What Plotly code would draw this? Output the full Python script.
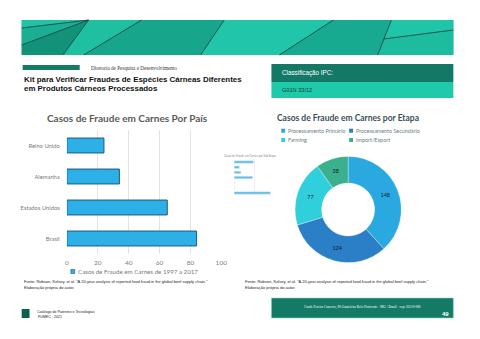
import plotly.graph_objects as go

# ---------------- data ----------------
paises = ["Reino Unido", "Alemanha", "Estados Unidos", "Brasil"]
casos_pais = [24, 34, 65, 84]
serie_pais = "Casos de Fraude em Carnes de 1997 a 2017"

etapas = ["Processamento Primário", "Processamento Secundário", "Farming", "Import/Export"]
casos_etapa = [148, 124, 77, 38]
cores_etapa = ["#2aa9e0", "#2a7fc6", "#2fcfdb", "#3bb08e"]

sub_etapas = ["a", "b", "c", "d", "e", "f", "g"]
casos_sub = [48, 13, 17, 46, 1, 1, 90]

x_ticks = [0, 20, 40, 60, 80, 100]

W, H = 480, 339
def fx(x): return x / W
def fy(y): return 1 - y / H

FONT = "Lato"
fig = go.Figure()

# ---------------- bar chart ----------------
fig.add_trace(go.Bar(
    y=paises, x=casos_pais, orientation="h", name=serie_pais,
    marker=dict(color="#2db0e8", line=dict(color="#1d5a7c", width=1)),
    xaxis="x", yaxis="y", showlegend=False, hoverinfo="x+y",
))

# small embedded chart (faded)
fig.add_trace(go.Bar(
    y=sub_etapas, x=casos_sub, orientation="h",
    marker=dict(color="#5fbde6"), xaxis="x2", yaxis="y2", showlegend=False,
))

# ---------------- donut ----------------
fig.add_trace(go.Pie(
    labels=etapas, values=casos_etapa, hole=0.5, sort=False,
    direction="clockwise", rotation=0,
    marker=dict(colors=cores_etapa, line=dict(color="rgba(255,255,255,0.6)", width=0.5)),
    textinfo="value", textposition="inside", insidetextorientation="horizontal",
    textfont=dict(family=FONT, size=5.5, color="#1a1a1a"),
    domain=dict(x=[fx(298), fx(406)], y=[fy(263), fy(156)]),
    showlegend=False,
))

fig.update_layout(
    width=W, height=H, autosize=False,
    margin=dict(l=0, r=0, t=0, b=0),
    paper_bgcolor="white", plot_bgcolor="white",
    bargap=0.52,
    xaxis=dict(domain=[fx(66), fx(223)], range=[0, 100], tickvals=x_ticks,
               showgrid=True, gridcolor="#e3e3e3", gridwidth=1, zeroline=False,
               showline=False, tickfont=dict(family=FONT, size=6.5, color="#808080"),
               ticks="outside", ticklen=2, tickcolor="rgba(0,0,0,0)", fixedrange=True),
    yaxis=dict(domain=[fy(254), fy(130)], range=[3.5, -0.5], showgrid=False,
               tickfont=dict(family=FONT, size=5.8, color="#7a7a7a"),
               ticks="outside", ticklen=5, tickcolor="rgba(0,0,0,0)",
               showline=False, zeroline=False, fixedrange=True),
    xaxis2=dict(domain=[fx(236), fx(277)], range=[0, 100], anchor="y2",
                showgrid=True, gridcolor="#eeeeee", showticklabels=False,
                zeroline=False, fixedrange=True),
    yaxis2=dict(domain=[fy(196), fy(159)], range=[6.6, -0.6], anchor="x2",
                showticklabels=False, showgrid=False, zeroline=False, fixedrange=True),
)

shapes = []
ann = []

def rect(x0, y0, x1, y1, color, line=None):
    shapes.append(dict(type="rect", xref="paper", yref="paper",
                       x0=fx(x0), x1=fx(x1), y0=fy(y1), y1=fy(y0),
                       fillcolor=color, line=dict(width=0) if line is None else line,
                       layer="below"))

def poly(pts, color):
    path = "M " + " L ".join(f"{fx(x):.5f},{fy(y):.5f}" for x, y in pts) + " Z"
    shapes.append(dict(type="path", xref="paper", yref="paper", path=path,
                       fillcolor=color, line=dict(width=0), layer="below"))

def seg(x0, y0, x1, y1, color="#1b3f38", w=0.8):
    shapes.append(dict(type="line", xref="paper", yref="paper",
                       x0=fx(x0), y0=fy(y0), x1=fx(x1), y1=fy(y1),
                       line=dict(color=color, width=w), layer="below"))

def text(x, y, s, size, color="#222", family="Liberation Sans", xanchor="left", bold=False):
    if bold:
        s = f"<b>{s}</b>"
    ann.append(dict(x=fx(x), y=fy(y), xref="paper", yref="paper", text=s,
                    showarrow=False, xanchor=xanchor, yanchor="middle",
                    font=dict(size=size, color=color, family=family)))

# ---------------- header banner ----------------
rect(20, 20, 459, 55, "#1cb99d")
poly([(20, 20), (88, 20), (20, 28)], "#22c2a5")
poly([(20, 28), (88, 20), (20, 45)], "#1aae94")
poly([(20, 45), (88, 20), (62, 55), (20, 55)], "#13927a")
poly([(62, 55), (88, 20), (142, 20), (83, 55)], "#1fbfa2")
poly([(83, 55), (142, 20), (226, 20), (202, 55)], "#17a68c")
poly([(202, 55), (226, 20), (337, 20), (282, 55)], "#21c5a9")
poly([(282, 55), (337, 20), (396, 20), (382, 55)], "#18aa90")
poly([(382, 55), (396, 20), (459, 20), (459, 30), (388, 39)], "#20c4a8")
poly([(388, 39), (459, 30), (459, 55), (382, 55)], "#1dbba0")
seg(20, 28, 88, 20)
seg(20, 45, 88, 20)
seg(62, 55, 88, 20)
seg(83, 55, 142, 20)
seg(202, 55, 226, 20)
seg(282, 55, 337, 20)
seg(382, 55, 396, 20)
seg(388, 39, 459, 30)

# title block
rect(21, 65, 79, 70, "#137b66")
text(88, 68, "Diretoria de Pesquisa e Desenvolvimento", 5.2, "#333", "Liberation Serif")
text(20, 79.5, "Kit para Verificar Fraudes de Espécies Cárneas Diferentes", 7.9, "#111", "Liberation Sans", bold=True)
text(20, 88.5, "em Produtos Cárneos Processados", 7.9, "#111", "Liberation Sans", bold=True)

rect(274, 64, 459, 82, "#137866")
rect(274, 82, 459, 98, "#1fcaab")
text(283, 73, "Classificação IPC:", 6.3, "white", "Liberation Sans")
text(283, 90, "G01N 33/12", 5.6, "#0c3d33", "Liberation Sans")

# ---------------- chart titles ----------------
text(128, 118, "Casos de Fraude em Carnes Por País", 10, "#5a5a5a", FONT, "center", bold=True)
text(352, 118, "Casos de Fraude em Carnes por Etapa", 8.5, "#3b4e57", FONT, "center", bold=True)

# bar legend
rect(70, 269.5, 74, 273.5, "#2db0e8", dict(color="#1d5a7c", width=0.6))
text(75, 271.7, serie_pais, 6.2, "#7a7a7a", FONT)

# donut legend
leg_pos = [(286, 130.7), (355, 130.7), (286, 140), (355, 140)]
for (lx, ly), lab, col in zip(leg_pos, etapas, cores_etapa):
    rect(lx - 2, ly - 2, lx + 2, ly + 2, col)
    text(lx + 3, ly, lab, 5.4, "#6a7d86", FONT)

# small embedded chart title
text(252, 156, "Casos de Fraude em Carnes por Sub Etapa", 2.8, "#888888", FONT, "center")

# ---------------- sources ----------------
src = "Fonte: Robson, Kelsey, et al. \"A 20-year analysis of reported food fraud in the global beef supply chain.\""
text(20, 281, src, 4.0, "#222", "Liberation Sans")
text(20, 287, "Elaboração própria do autor.", 4.0, "#222", "Liberation Sans")
text(245, 281, src, 4.0, "#222", "Liberation Sans")
text(245, 287, "Elaboração própria do autor.", 4.0, "#222", "Liberation Sans")

# ---------------- footer ----------------
rect(20, 309, 28, 318, "#0e5e4e")
text(34, 312, "Catálogo de Patentes e Tecnologias", 3.6, "#222", "Liberation Sans")
text(35, 316.5, "FUMEC - 2021", 3.6, "#222", "Liberation Sans")
rect(274, 298, 459, 318, "#147a66", dict(color="#7fd8c5", width=0.6))
text(367, 307, "Cande Pereira Carneiro, 80 Gameleira Belo Horizonte - MG / Brasil · cep: 30510-000",
     3.4, "white", "Liberation Serif", "center")
text(457, 313.5, "49", 6, "white", "Liberation Sans", "right", bold=True)

fig.update_layout(shapes=shapes, annotations=ann)
fig.write_html("out.html")
